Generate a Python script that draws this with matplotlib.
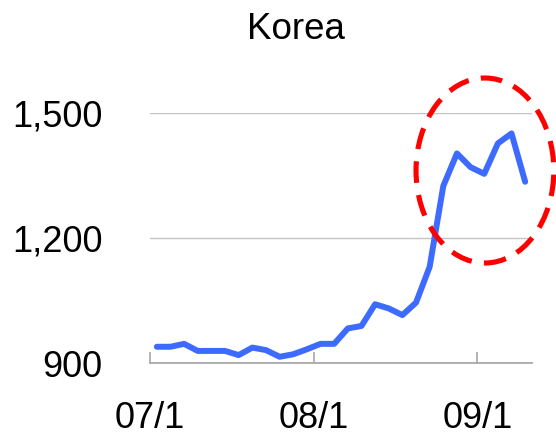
import matplotlib
matplotlib.use("Agg")
import matplotlib.pyplot as plt
from matplotlib.patches import Ellipse

plt.rcParams['font.family'] = ['Liberation Sans', 'DejaVu Sans']

# monthly won per dollar, Jan 2007 .. Apr 2009
rate = [939, 939, 946, 929, 929, 929, 919, 937, 931, 915, 921, 933,
        946, 946, 983, 989, 1041, 1031, 1015, 1045, 1131, 1325, 1403, 1370,
        1354, 1427, 1451, 1335]
tick_pos = [-0.5, 11.5, 23.5]
tick_labels = ['07/1', '08/1', '09/1']
y_ticks = [900, 1200, 1500]
y_labels = ['900', '1,200', '1,500']

# circled spike: centre, width, height in data units
spike_xy = (24.05, 1362)
spike_w, spike_h = 10.1, 444

fig = plt.figure(figsize=(5.56, 4.36), dpi=100)
ax = fig.add_axes([0.2698, 0.1674, 0.6870, 0.5734])

ax.plot(range(len(rate)), rate, color='#3d6bff', lw=4.3, solid_joinstyle='round',
        solid_capstyle='round', zorder=3)

ax.set_xlim(-0.5, len(rate) - 0.5)
ax.set_ylim(900, 1500)
ax.set_yticks(y_ticks)
ax.set_yticklabels(y_labels)
ax.set_xticks(tick_pos)
ax.set_xticklabels(tick_labels)

ax.yaxis.grid(True, color='#c4c4c4', lw=1)
ax.set_axisbelow(True)
for s in ['top', 'right', 'left']:
    ax.spines[s].set_visible(False)
ax.spines['bottom'].set_color('#a8a8a8')
ax.spines['bottom'].set_linewidth(1.3)

ax.tick_params(axis='y', length=0, pad=34, labelsize=26)
ax.tick_params(axis='x', direction='in', length=8, width=1.2, color='#a8a8a8',
               pad=27, labelsize=26)
for lbl in ax.get_xticklabels():
    lbl.set_x(lbl.get_position()[0] + 0.2)

ell = Ellipse(spike_xy, spike_w, spike_h, fill=False, edgecolor='#ff0000',
              lw=3.7, ls=(0, (4.2, 2.4)), clip_on=False, zorder=4)
ax.add_patch(ell)

fig.text(0.532, 0.91, 'Korea', ha='center', va='baseline', fontsize=26.5)

fig.savefig('out.png', dpi=100)
